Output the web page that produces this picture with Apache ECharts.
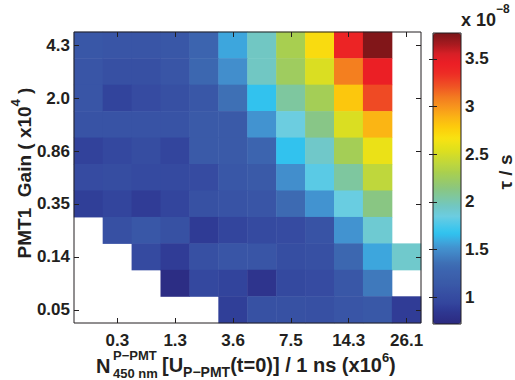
<!DOCTYPE html>
<html><head><meta charset="utf-8">
<script src="https://cdn.jsdelivr.net/npm/echarts@6/dist/echarts.min.js"></script>
<style>html,body{margin:0;padding:0;background:#fff}#c{width:515px;height:380px}</style>
</head><body><div id="c"></div>
<script>
// Tick labels
const xTickLabels = ['', '0.3', '', '1.3', '', '3.6', '', '7.5', '', '14.3', '', '26.1'];
const yTickLabels = ['4.3', '', '2.0', '', '0.86', '', '0.35', '', '0.14', '', '0.05'];
const colorbarTicks = [1, 1.5, 2, 2.5, 3, 3.5];

// tau values (x 1e-8 s), one array per gain row from top (4.3) to bottom (0.05); null = no data
const tauRow01 = [1.12, 1.10, 1.10, 1.12, 1.28, 1.58, 1.95, 2.30, 2.70, 3.40, 3.75, null];
const tauRow02 = [1.10, 1.05, 1.05, 1.10, 1.30, 1.50, 1.95, 2.25, 2.52, 3.08, 3.45, null];
const tauRow03 = [1.10, 0.93, 1.00, 1.05, 1.12, 1.36, 1.67, 2.05, 2.28, 2.80, 3.24, null];
const tauRow04 = [1.08, 1.08, 1.08, 1.08, 1.15, 1.15, 1.52, 1.85, 2.12, 2.52, 2.88, null];
const tauRow05 = [0.92, 0.96, 1.02, 0.94, 1.15, 1.15, 1.28, 1.67, 1.93, 2.28, 2.60, null];
const tauRow06 = [1.00, 1.02, 0.98, 0.98, 1.00, 1.12, 1.15, 1.50, 1.80, 2.05, 2.40, null];
const tauRow07 = [0.90, 0.94, 0.88, 0.94, 1.06, 1.08, 1.10, 1.32, 1.52, 1.84, 2.13, null];
const tauRow08 = [null, 1.05, 1.12, 1.06, 0.87, 0.94, 0.98, 1.00, 1.08, 1.52, 1.90, null];
const tauRow09 = [null, null, 0.98, 0.88, 1.05, 1.10, 1.10, 1.03, 1.05, 1.30, 1.58, 1.92];
const tauRow10 = [null, null, null, 0.75, 0.96, 0.93, 0.82, 0.97, 1.00, 1.12, 1.40, null];
const tauRow11 = [null, null, null, null, null, 0.90, 1.06, 1.06, 1.05, 1.10, 1.13, 0.88];
const tauRows = [tauRow01, tauRow02, tauRow03, tauRow04, tauRow05, tauRow06, tauRow07, tauRow08, tauRow09, tauRow10, tauRow11];

const tauMin = 0.72, tauMax = 3.77;

// colour map stops (value, colour)
const cmapStops = [
  [0.72,'#2b2a7f'],[0.78,'#2d3088'],[0.88,'#2f3c96'],[0.95,'#34479f'],[1.05,'#3750a3'],
  [1.15,'#3a5aa8'],[1.28,'#3c64af'],[1.36,'#3e6fb5'],[1.45,'#4184c5'],[1.52,'#4292cf'],
  [1.58,'#3ea6dd'],[1.67,'#2fc3f0'],[1.76,'#4cc8ea'],[1.85,'#6ccde0'],[1.95,'#71c7c4'],
  [2.05,'#7ec79f'],[2.15,'#8cc67c'],[2.30,'#a8cf50'],[2.42,'#c3d838'],[2.55,'#e0e01c'],
  [2.66,'#f8e312'],[2.78,'#fdcc0b'],[2.88,'#fbb514'],[3.00,'#f7941d'],[3.10,'#f37a20'],
  [3.22,'#ef5024'],[3.35,'#ed2a25'],[3.45,'#ec1e25'],[3.55,'#d81f26'],[3.65,'#a81a1f'],[3.77,'#7a1518']
];
function hexToRgb(h){return [parseInt(h.slice(1,3),16),parseInt(h.slice(3,5),16),parseInt(h.slice(5,7),16)];}
function buildColormap(n){
  const out=[];
  for(let i=0;i<n;i++){
    const v=tauMin+(tauMax-tauMin)*i/(n-1);
    let k=0; while(k<cmapStops.length-2 && v>cmapStops[k+1][0]) k++;
    const a=cmapStops[k], b=cmapStops[k+1];
    const t=Math.max(0,Math.min(1,(v-a[0])/(b[0]-a[0])));
    const ca=hexToRgb(a[1]), cb=hexToRgb(b[1]);
    const c=ca.map((x,j)=>Math.round(x+(cb[j]-x)*t));
    out.push('rgb('+c.join(',')+')');
  }
  return out;
}

const heatData=[];
tauRows.forEach((row,r)=>row.forEach((v,c)=>{ if(v!==null) heatData.push([c,r,v]); }));

const ink='#231f20';
const FF='"Liberation Sans", Arial, Helvetica, sans-serif';
const tickFont={color:ink,fontFamily:FF,fontWeight:'bold',fontSize:17,lineHeight:16};
const xIdx=xTickLabels.map((_,i)=>String(i));
const yIdx=yTickLabels.map((_,i)=>String(i));
const NB='\u00a0';

const chart=echarts.init(document.getElementById('c'),null,{renderer:'svg'});
chart.setOption({
  animation:false,
  backgroundColor:'#fff',
  grid:[
    {left:74,top:32,width:347,height:291,show:true,borderColor:ink,borderWidth:1,backgroundColor:'transparent',z:10},
    {left:433,top:33,width:28,height:291,show:true,borderColor:ink,borderWidth:1,backgroundColor:'transparent',z:10}
  ],
  xAxis:[
    {type:'category',gridIndex:0,position:'bottom',data:xIdx,axisLine:{show:false},
     axisTick:{show:true,inside:true,length:5,alignWithLabel:true,interval:(i)=>i%2===1,lineStyle:{color:ink}},
     axisLabel:Object.assign({interval:0,margin:9,formatter:(v)=>xTickLabels[+v]},tickFont),
     splitLine:{show:false},splitArea:{show:false},z:11},
    {type:'category',gridIndex:0,position:'top',data:xIdx,axisLine:{show:false},
     axisTick:{show:true,inside:true,length:5,alignWithLabel:true,interval:(i)=>i%2===1,lineStyle:{color:ink}},
     axisLabel:{show:false},splitLine:{show:false},z:11},
    {type:'value',gridIndex:1,show:false,min:0,max:1}
  ],
  yAxis:[
    {type:'category',gridIndex:0,position:'left',inverse:true,data:yIdx,axisLine:{show:false},
     axisTick:{show:true,inside:true,length:5,alignWithLabel:true,interval:(i)=>i%2===0,lineStyle:{color:ink}},
     axisLabel:Object.assign({interval:0,margin:4,formatter:(v)=>yTickLabels[+v]},tickFont),
     splitLine:{show:false},splitArea:{show:false},z:11},
    {type:'category',gridIndex:0,position:'right',inverse:true,data:yIdx,axisLine:{show:false},
     axisTick:{show:true,inside:true,length:5,alignWithLabel:true,interval:(i)=>i%2===0,lineStyle:{color:ink}},
     axisLabel:{show:false},splitLine:{show:false},z:11},
    {type:'value',gridIndex:1,position:'right',min:tauMin,max:tauMax,axisLine:{show:false},
     axisTick:{show:true,inside:true,length:4,customValues:colorbarTicks,lineStyle:{color:ink}},
     axisLabel:Object.assign({margin:4,customValues:colorbarTicks,formatter:(v)=>String(v)},tickFont),
     splitLine:{show:false},z:11},
    {type:'value',gridIndex:1,position:'left',min:tauMin,max:tauMax,axisLine:{show:false},
     axisTick:{show:true,inside:true,length:4,customValues:colorbarTicks,lineStyle:{color:ink}},
     axisLabel:{show:false},splitLine:{show:false},z:11}
  ],
  visualMap:{type:'continuous',seriesIndex:0,min:tauMin,max:tauMax,calculable:false,hoverLink:false,
    inRange:{color:buildColormap(128)},itemWidth:28,itemHeight:291,left:433,top:33,padding:0,
    orient:'vertical',borderWidth:0},
  series:[{type:'heatmap',xAxisIndex:0,yAxisIndex:0,data:heatData,progressive:0,
    itemStyle:{borderWidth:0},emphasis:{disabled:true}}],
  graphic:[
    {type:'text',x:24,y:173,rotation:Math.PI/2,style:{text:'{m|PMT1'+NB+NB+'Gain'+NB+'('+NB+'x10}{s|4}{m|'+NB+')}',align:'center',verticalAlign:'middle',
      rich:{m:{fontFamily:FF,fontWeight:'bold',fontSize:19,fill:ink,lineHeight:30},
            s:{fontFamily:FF,fontWeight:'bold',fontSize:13,fill:ink,lineHeight:10,verticalAlign:'top'}}}},
    {type:'text',x:96,y:366,style:{text:'N',fontFamily:FF,fontWeight:'bold',fontSize:20,fill:ink,align:'left',verticalAlign:'middle'}},
    {type:'text',x:113,y:355,style:{text:'P\u2212PMT',fontFamily:FF,fontWeight:'bold',fontSize:13,lineHeight:13,fill:ink,align:'left',verticalAlign:'middle'}},
    {type:'text',x:113,y:373,style:{text:'450'+NB+'nm',fontFamily:FF,fontWeight:'bold',fontSize:13,lineHeight:13,fill:ink,align:'left',verticalAlign:'middle'}},
    {type:'text',x:162,y:365,style:{text:'{m|[U}{b|P\u2212PMT}{m|(t=0)]'+NB+'/'+NB+'1'+NB+'ns'+NB+'(x10}{p|6}{m|)}',align:'left',verticalAlign:'middle',
      rich:{m:{fontFamily:FF,fontWeight:'bold',fontSize:20,fill:ink,lineHeight:28},
            b:{fontFamily:FF,fontWeight:'bold',fontSize:14,fill:ink,lineHeight:12,verticalAlign:'bottom'},
            p:{fontFamily:FF,fontWeight:'bold',fontSize:13,fill:ink,lineHeight:8,verticalAlign:'top'}}}},
    {type:'text',x:461,y:20,style:{text:'{m|x'+NB+'10}{p|\u22128}',align:'left',verticalAlign:'middle',
      rich:{m:{fontFamily:FF,fontWeight:'bold',fontSize:18,fill:ink,lineHeight:34},
            p:{fontFamily:FF,fontWeight:'bold',fontSize:12,fill:ink,lineHeight:10,verticalAlign:'top'}}}},
    {type:'text',x:505,y:172,rotation:Math.PI/2,style:{text:'\u03c4'+NB+'/'+NB+'s',fontFamily:FF,fontWeight:'bold',fontSize:19,fill:ink,align:'center',verticalAlign:'middle'}}
  ]
});
</script></body></html>
